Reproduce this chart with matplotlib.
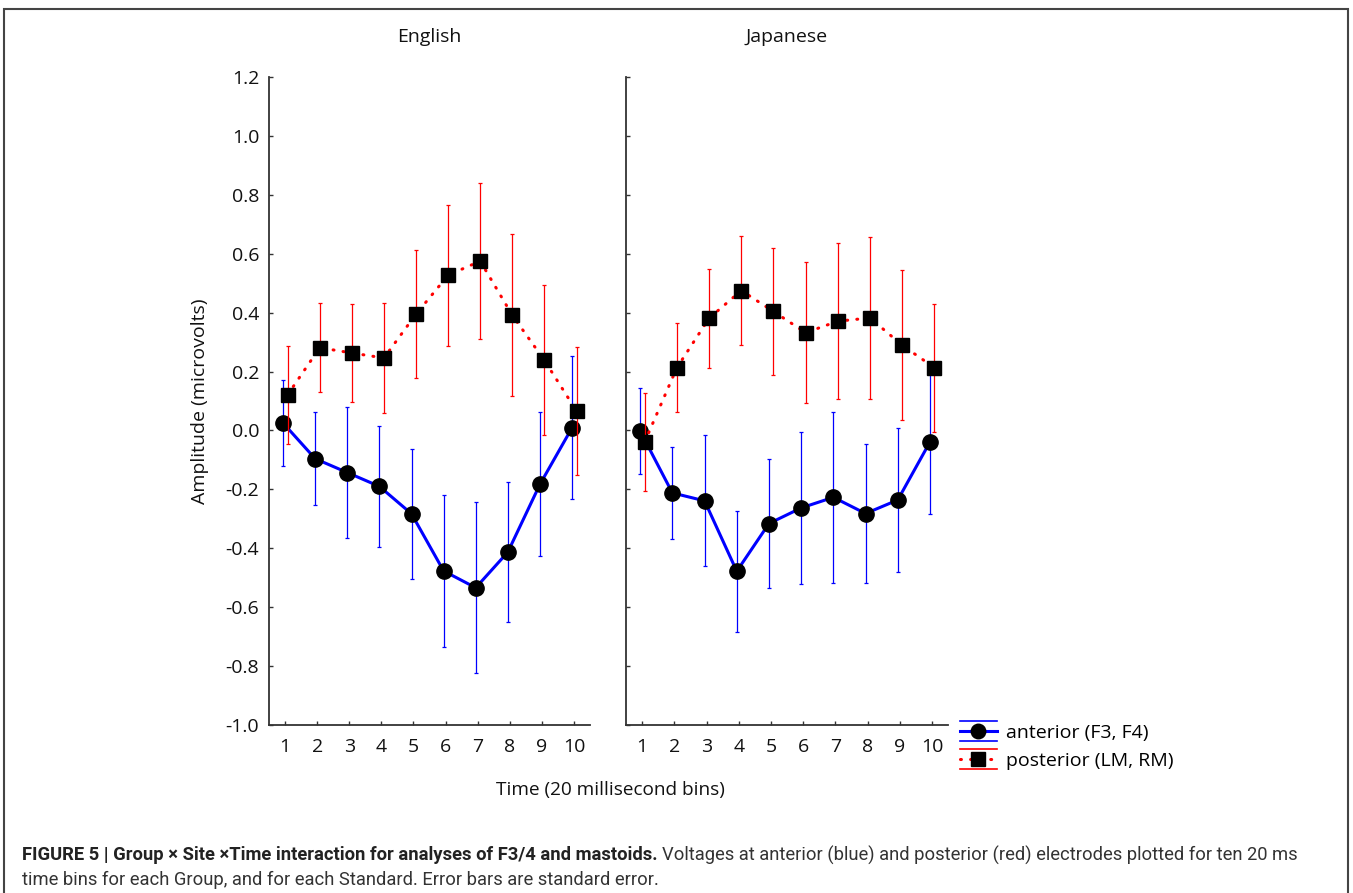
import matplotlib
matplotlib.use("Agg")
import matplotlib.pyplot as plt
from matplotlib.lines import Line2D
from matplotlib.legend_handler import HandlerBase
from matplotlib.patches import Rectangle

# values (microvolts), one per 20 ms bin
time_bins = [1, 2, 3, 4, 5, 6, 7, 8, 9, 10]
english_anterior = [0.025, -0.096, -0.143, -0.190, -0.283, -0.477, -0.534, -0.413, -0.183, 0.009]
english_posterior = [0.121, 0.281, 0.263, 0.246, 0.395, 0.527, 0.575, 0.391, 0.238, 0.066]
japanese_anterior = [-0.002, -0.212, -0.239, -0.478, -0.316, -0.263, -0.227, -0.282, -0.236, -0.039]
japanese_posterior = [-0.039, 0.213, 0.381, 0.475, 0.404, 0.332, 0.371, 0.382, 0.289, 0.213]
anterior_se = [0.146, 0.157, 0.222, 0.205, 0.220, 0.257, 0.290, 0.237, 0.244, 0.243]
posterior_se = [0.167, 0.152, 0.168, 0.186, 0.217, 0.240, 0.264, 0.275, 0.255, 0.218]
ytick_values = [-1.0, -0.8, -0.6, -0.4, -0.2, 0.0, 0.2, 0.4, 0.6, 0.8, 1.0, 1.2]
ytick_labels = ["-1.0", "-0.8", "-0.6", "-0.4", "-0.2", "0.0", "0.2", "0.4", "0.6", "0.8", "1.0", "1.2"]

plt.rcParams["font.family"] = ["Open Sans", "DejaVu Sans"]

W, H = 1353, 893
fig = plt.figure(figsize=(W / 100, H / 100), dpi=100)

ax_en = fig.add_axes([269 / W, 1 - 725 / H, 321 / W, 648 / H])
ax_jp = fig.add_axes([626 / W, 1 - 725 / H, 322 / W, 648 / H])

dotted = (0, (0.3, 3.0))
handles = None
for ax, ant, post, name in [(ax_en, english_anterior, english_posterior, "English"),
                            (ax_jp, japanese_anterior, japanese_posterior, "Japanese")]:
    xa = [t - 0.06 for t in time_bins]
    xp = [t + 0.08 for t in time_bins]
    ax.errorbar(xa, ant, yerr=anterior_se, fmt="none", ecolor="blue",
                elinewidth=0.9, capsize=1.5, capthick=0.9, zorder=2)
    h1, = ax.plot(xa, ant, color="blue", lw=2.2, marker="o", ms=11,
                  mfc="black", mec="black", zorder=3)
    ax.errorbar(xp, post, yerr=posterior_se, fmt="none", ecolor="red",
                elinewidth=0.9, capsize=1.5, capthick=0.9, zorder=4)
    h2, = ax.plot(xp, post, color="red", lw=2.2, ls=dotted, dash_capstyle="round",
                  marker="s", ms=10.5, mfc="black", mec="black", zorder=5)
    handles = (h1, h2)

    ax.set_xlim(0.5, 10.5)
    ax.set_ylim(-1.0, 1.2)
    ax.set_xticks(time_bins)
    ax.set_yticks(ytick_values)
    ax.set_yticklabels(ytick_labels)
    for s in ["top", "right"]:
        ax.spines[s].set_visible(False)
    for s in ["left", "bottom"]:
        ax.spines[s].set_color("#333333")
        ax.spines[s].set_linewidth(1.3)
    ax.tick_params(direction="in", length=3, width=1, color="#333333",
                   labelsize=14, labelcolor="#111111")
    ax.tick_params(axis="x", pad=9)
    ax.tick_params(axis="y", pad=7)
    fig.text((ax.get_position().x0 + ax.get_position().x1) / 2, 1 - 37 / H, name,
             ha="center", va="center", fontsize=14, color="#111111")

ax_jp.tick_params(labelleft=False)

fig.text(200 / W, 1 - 401 / H, "Amplitude (microvolts)", rotation=90,
         ha="center", va="center", fontsize=14, color="#111111")
fig.text(610 / W, 1 - 790 / H, "Time (20 millisecond bins)",
         ha="center", va="center", fontsize=13.7, color="#111111")


class StackedHandler(HandlerBase):
    # statistica-style key: line + marker with error lines above and below
    def __init__(self, ls):
        super().__init__()
        self.ls = ls

    def create_artists(self, legend, orig_handle, xdescent, ydescent,
                       width, height, fontsize, trans):
        yc = height / 2 - ydescent
        x0, x1 = -xdescent, width - xdescent
        d = 0.52 * fontsize
        c = orig_handle.get_color()
        mid = Line2D([x0, x1], [yc, yc], color=c, lw=orig_handle.get_linewidth(),
                     ls=self.ls, dash_capstyle="round")
        top = Line2D([x0, x1], [yc + d, yc + d], color=c, lw=1.2)
        bot = Line2D([x0, x1], [yc - d, yc - d], color=c, lw=1.2)
        mk = Line2D([(x0 + x1) / 2], [yc], marker=orig_handle.get_marker(),
                    ms=orig_handle.get_markersize() * 0.95, mfc="black", mec="black",
                    linestyle="none")
        arts = [top, bot, mid, mk]
        for a in arts:
            a.set_transform(trans)
        return arts


fig.legend(handles, ["anterior (F3, F4)", "posterior (LM, RM)"],
           loc="center left", bbox_to_anchor=(960 / W, 1 - 747 / H),
           frameon=False, fontsize=14, handlelength=1.9, handletextpad=0.45,
           labelspacing=0.5, borderaxespad=0, borderpad=0,
           handler_map={handles[0]: StackedHandler("-"), handles[1]: StackedHandler(dotted)})

# caption
cap_font = ["Roboto", "DejaVu Sans"]
bold = fig.text(22 / W, 1 - 855 / H,
                "FIGURE 5 | Group \u00d7 Site \u00d7Time interaction for analyses of F3/4 and mastoids.",
                fontsize=13.2, fontweight="bold", va="center", color="#222222", family=cap_font)
fig.canvas.draw()
bb = bold.get_window_extent()
fig.text(bb.x1 / W + 4 / W, 1 - 855 / H,
         "Voltages at anterior (blue) and posterior (red) electrodes plotted for ten 20 ms",
         fontsize=13.2, va="center", color="#333333", family=cap_font)
fig.text(22 / W, 1 - 880 / H,
         "time bins for each Group, and for each Standard. Error bars are standard error.",
         fontsize=13.2, va="center", color="#333333", family=cap_font)

fig.add_artist(Rectangle((4 / W, -0.02), 1344 / W, (884 / H) + 0.02,
                         transform=fig.transFigure, fill=False, ec="#444444", lw=1.5))

fig.savefig("out.png", dpi=100)
